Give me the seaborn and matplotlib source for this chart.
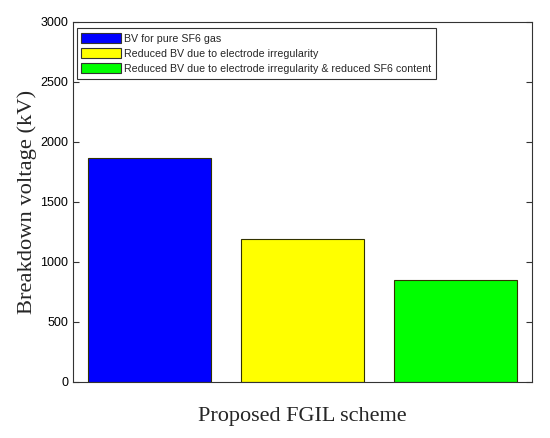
import matplotlib
matplotlib.use("Agg")
import matplotlib.pyplot as plt
import seaborn as sns
import pandas as pd
from matplotlib.patches import Patch

categories = ["BV for pure SF6 gas",
              "Reduced BV due to electrode irregularity",
              "Reduced BV due to electrode irregularity & reduced SF6 content"]
values = [1867, 1190, 852]
colors = ["#0000ff", "#ffff00", "#00ff00"]
yticks = [0, 500, 1000, 1500, 2000, 2500, 3000]

sns.set_style("ticks")
plt.rcParams['font.family'] = ['Liberation Sans', 'DejaVu Sans']

df = pd.DataFrame({"cat": categories, "val": values})

fig = plt.figure(figsize=(5.5, 4.38), dpi=100)
ax = fig.add_axes([73/550, 56/438, 459/550, 360/438])
sns.barplot(data=df, x="cat", y="val", hue="cat", palette=colors, width=0.8,
            edgecolor="#333300", linewidth=0.8, legend=False, ax=ax, saturation=1)
ax.set_xlim(-0.5, 2.5)
ax.set_ylim(0, 3000)
ax.set_yticks(yticks)
ax.set_yticklabels([str(t) for t in yticks], fontsize=9)
ax.set_xticks([])
ax.tick_params(axis='y', direction='in', right=True, length=4, width=0.8, colors='#333333', labelcolor='black')
for s in ax.spines.values():
    s.set_visible(True)
    s.set_color('#333333')
    s.set_linewidth(0.8)
ax.set_xlabel("Proposed FGIL scheme", fontsize=16, family='Liberation Serif', labelpad=18)
ax.set_ylabel("Breakdown voltage (kV)", fontsize=16.2, family='Liberation Serif', labelpad=2)

handles = [Patch(facecolor=c, edgecolor='#333333', linewidth=0.8, label=l) for c, l in zip(colors, categories)]
leg = ax.legend(handles=handles, loc='upper left', bbox_to_anchor=(0.008, 0.983), fontsize=7.7,
                frameon=True, fancybox=False, edgecolor='#333333', framealpha=1,
                handlelength=3.7, handleheight=1.05, handletextpad=0.3, labelspacing=0.42,
                borderpad=0.45, borderaxespad=0)
leg.get_frame().set_linewidth(0.8)

fig.savefig("out.png", dpi=100)
